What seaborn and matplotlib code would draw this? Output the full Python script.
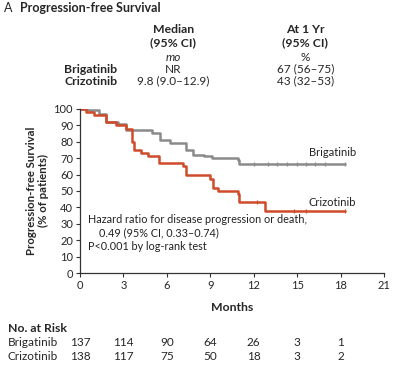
import matplotlib.pyplot as plt
import seaborn as sns
import pandas as pd

# survival steps (months, % of patients)
brig_t = [0, 0.5, 0.9, 1.3, 1.8, 2.6, 3.2, 5.0, 5.5, 6.2, 7.3, 7.8, 8.6, 9.1, 10.9, 11.0, 18.3]
brig_s = [100, 99.5, 99, 97, 92, 91, 87, 85, 81, 79, 75, 72, 71, 70, 69, 66.5, 66.5]
criz_t = [0, 0.4, 1.0, 1.8, 2.5, 3.2, 3.6, 3.75, 4.2, 4.7, 5.45, 7.1, 7.3, 9.0, 9.2, 9.5, 10.9, 11.0, 12.8, 18.3]
criz_s = [100, 98, 96, 92, 90, 88, 80, 75, 73, 71, 67, 65.5, 60, 57, 52, 50, 48, 43, 37.5, 37.5]
brig_cens = [12.0, 13.0, 13.6, 14.3, 15.0, 15.6, 16.2, 16.9, 18.3]
criz_cens = [12.2, 14.8, 15.6, 18.3]

risk_times = [0, 3, 6, 9, 12, 15, 18]
risk_brig = [137, 114, 90, 64, 26, 3, 1]
risk_criz = [138, 117, 75, 50, 18, 3, 2]

GRAY = "#8a8a8a"
RED = "#cf4b2b"

sns.set_theme(style="ticks")
plt.rcParams["font.family"] = ["Lato", "DejaVu Sans"]

fig = plt.figure(figsize=(4.0, 3.69), dpi=100)
ax = fig.add_axes([0.2, 0.26, 0.76, 0.445])

df = pd.concat([
    pd.DataFrame({"t": brig_t, "s": brig_s, "arm": "Brigatinib"}),
    pd.DataFrame({"t": criz_t, "s": criz_s, "arm": "Crizotinib"}),
])
sns.lineplot(data=df, x="t", y="s", hue="arm", palette=[GRAY, RED], estimator=None,
             sort=False, drawstyle="steps-post", linewidth=1.8, legend=False, ax=ax)

def at(times, steps_t, steps_s):
    out = []
    for c in times:
        v = steps_s[0]
        for tt, ss in zip(steps_t, steps_s):
            if tt <= c:
                v = ss
        out.append(v)
    return out

sns.scatterplot(x=brig_cens, y=at(brig_cens, brig_t, brig_s), marker="|", s=8,
                color=GRAY, linewidth=0.9, ax=ax)
sns.scatterplot(x=criz_cens, y=at(criz_cens, criz_t, criz_s), marker="|", s=8,
                color=RED, linewidth=0.9, ax=ax)

ax.set_xlim(0, 21)
ax.set_ylim(0, 100)
ax.set_xticks(range(0, 22, 3))
ax.set_yticks(range(0, 101, 10))
ax.tick_params(labelsize=8, length=3, width=0.8, color="#333333", pad=2)
for sp in ["left", "bottom"]:
    ax.spines[sp].set_linewidth(0.9)
    ax.spines[sp].set_color("#333333")
sns.despine(ax=ax)
ax.spines["left"].set_bounds(0, 100)
ax.set_xlabel("")
ax.set_ylabel("Progression-free Survival\n(% of patients)", fontsize=8.2,
              fontweight="bold", labelpad=3, linespacing=1.2)

ax.text(15.8, 73.5, "Brigatinib", fontsize=8, va="center", color="#222222")
ax.text(15.8, 43, "Crizotinib", fontsize=8, va="center", color="#222222")
ax.text(0.55, 24.5, "Hazard ratio for disease progression or death,\n"
        "    0.49 (95% CI, 0.33\u20130.74)\nP<0.001 by log-rank test",
        fontsize=7.8, va="center", linespacing=1.25, color="#222222")

# header block
fig.text(0.01, 0.978, "A", fontsize=9, va="center")
fig.text(0.05, 0.978, "Progression-free Survival", fontsize=9, va="center", fontweight="bold")
fig.text(0.433, 0.902, "Median\n(95% CI)", fontsize=8.8, fontweight="bold", ha="center",
         va="center", linespacing=1.2)
fig.text(0.763, 0.902, "At 1 Yr\n(95% CI)", fontsize=8.8, fontweight="bold", ha="center",
         va="center", linespacing=1.2)
fig.text(0.433, 0.843, "mo", fontsize=8.5, style="italic", ha="center", va="center")
fig.text(0.763, 0.843, "%", fontsize=8.5, ha="center", va="center")
fig.text(0.293, 0.813, "Brigatinib", fontsize=8.8, fontweight="bold", ha="right", va="center")
fig.text(0.293, 0.780, "Crizotinib", fontsize=8.8, fontweight="bold", ha="right", va="center")
fig.text(0.433, 0.813, "NR", fontsize=8.5, ha="center", va="center")
fig.text(0.433, 0.780, "9.8 (9.0\u201312.9)", fontsize=8.5, ha="center", va="center")
fig.text(0.763, 0.813, "67 (56\u201375)", fontsize=8.5, ha="center", va="center")
fig.text(0.763, 0.780, "43 (32\u201353)", fontsize=8.5, ha="center", va="center")

# x label and number at risk
fig.text(0.58, 0.168, "Months", fontsize=8.8, fontweight="bold", ha="center", va="center")
fig.text(0.02, 0.111, "No. at Risk", fontsize=8.8, fontweight="bold", va="center")
fig.text(0.02, 0.071, "Brigatinib", fontsize=8.5, va="center")
fig.text(0.02, 0.033, "Crizotinib", fontsize=8.5, va="center")
for t, b, c in zip(risk_times, risk_brig, risk_criz):
    x = ax.transData.transform((t, 0))[0] / fig.bbox.width
    fig.text(x, 0.071, str(b), fontsize=8.5, ha="center", va="center")
    fig.text(x, 0.033, str(c), fontsize=8.5, ha="center", va="center")

fig.savefig("out.png", dpi=100)
